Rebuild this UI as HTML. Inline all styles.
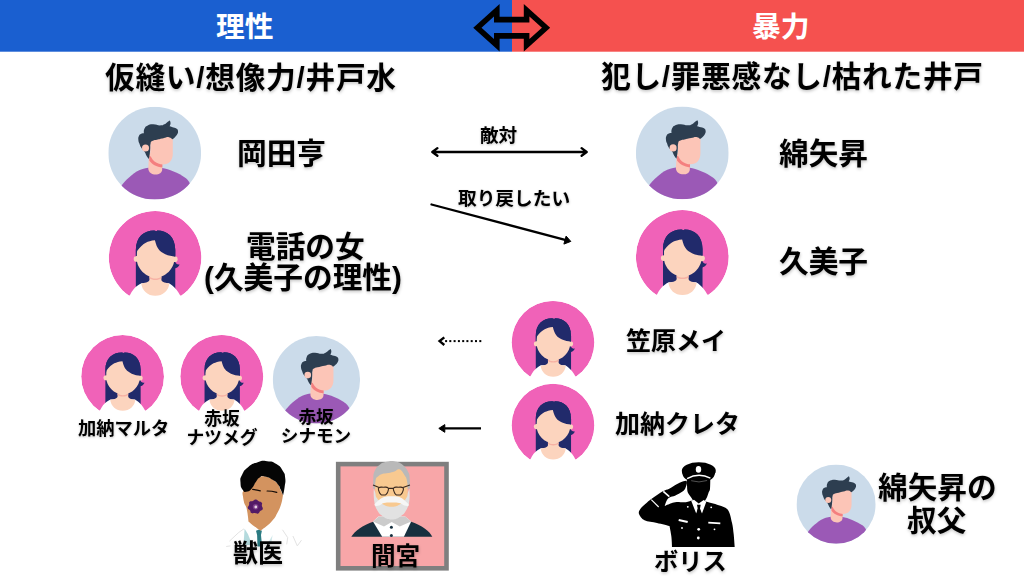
<!DOCTYPE html>
<html><head><meta charset="utf-8"><title>diagram</title><style>html,body{margin:0;padding:0;background:#fff;font-family:"Liberation Sans",sans-serif}svg{display:block}svg text{font-family:"Liberation Sans","Noto Sans CJK JP",sans-serif;font-weight:bold}</style></head><body>
<svg width="1024" height="576" viewBox="0 0 1024 576">
<defs><symbol id="male" viewBox="0 0 100 100"><clipPath id="mc"><circle cx="50" cy="50" r="50"/></clipPath><circle cx="50" cy="50" r="50" fill="#cbdbea"/><g clip-path="url(#mc)"><path fill="#9b59b6" d="M11 90C17 80 23 75.3 30.6 69.9C35 67.5 39 66.3 43.1 65.8L58.1 66.1C65.3 67.3 75 71 83.7 77C86 79 88 82 90 87L90 101L11 101Z"/><path fill="#fcc5b7" d="M44 50L43.1 66.3C43.1 75.2 58.1 75.2 58.1 67.5L58.1 50Z"/><path fill="#f47f7f" d="M44.2 53L44.2 58C46.5 62 52 65 58.3 65.6L58.3 58Z"/><path fill="#fcc5b7" d="M45.2 30L69.5 30L69.5 50.7C69.5 58 65 62.3 59 62.3C52 62.3 45.2 57 45.2 50Z"/><path fill="#2d3e50" d="M32.4 35.8C32.2 33.6 32.2 33.4 33 31.6C33.8 29.8 34 30 35.4 29.2C36.8 28.4 38.4 28.5 38.4 28.5C38.4 28.5 37.8 26 38.9 23.8C40 21.6 39.9 21.5 42.5 20.2C45.1 18.9 45 19 48.5 19C52 19 52.5 20.2 55.7 20.2C58.9 20.2 58.3 20.1 60.5 19C62.7 17.9 62.6 17.3 64.1 16.2C65.6 15.1 66.2 14.8 66.2 14.8C66.2 14.8 67.2 16.1 67.1 17.8C67 19.5 65.9 21.2 65.9 21.2C65.9 21.2 68 21.7 70.1 22.4C72.2 23.1 72.4 22.8 73.7 23.8C75 24.8 74.9 24.6 75.1 26.2C75.3 27.8 75.3 27.9 74.3 29.8C73.3 31.7 72.7 32 71.3 33.4C69.9 34.8 68.9 35 68.9 35C68.9 35 67.9 33.1 65.3 32.8C62.7 32.5 62.5 33.3 59.3 34C56.1 34.7 56.5 34.6 53.3 35.4C50.1 36.2 49.4 35.8 47.3 37C45.2 38.2 46.1 37.9 45.5 40C44.9 42.1 45.4 41.8 45.2 44.7C45 47.6 45.1 47.6 44.7 50.7C44.3 53.8 43.7 56.3 43.7 56.3C43.7 56.3 42.6 55.2 41.3 53.1C40 51 40.5 50.7 38.9 48.3C37.3 45.9 36.8 46.3 35.4 44.1C34 41.9 34.4 42.2 33.6 40C32.8 37.8 32.6 38 32.4 35.8Z"/><circle cx="40.1" cy="44.6" r="3.8" fill="#fcc5b7"/></g></symbol><symbol id="female" viewBox="0 0 100 100" overflow="visible"><clipPath id="fc"><circle cx="50" cy="50" r="50"/></clipPath><g clip-path="url(#fc)"><circle cx="50" cy="50" r="50" fill="#f062b8"/><path fill="#212a6b" d="M29.2 84L29.2 42C29.2 28 38 21 49 21L51.5 21.8L52.5 21C63 21 71.8 28 71.8 42L71.8 84Z"/><path fill="#212a6b" d="M71 54C72 57 74 58 76.5 57.6C75.5 60 73.5 61.5 71 62Z"/></g><path fill="#fff" d="M8 102L22.9 90.7C25 86 28 82.5 30.8 80.6C32.5 79.3 34 78.3 35.4 77.8L64.7 77.8C66 78.3 67.5 79.3 68.9 80.6C72 83 75 87 76.8 90.7L92 102Z"/><path fill="#fcd4be" d="M43.9 66L43.9 74C43.9 76.5 41 77.5 35 78.2C36 86 42 91.5 50.2 91.5C58.5 91.5 64.5 86 65.5 78.2C59.5 77.5 56.8 76.5 56.8 74L56.8 66Z"/><path fill="#f6b1a4" d="M43.9 70.5C47 73.5 53.5 73.5 56.8 70.5L56.8 72.5C53.5 75 47 75 43.9 72.5Z"/><circle cx="30" cy="51.7" r="3.1" fill="#fcd4be"/><circle cx="71.2" cy="51.9" r="3.1" fill="#fcd4be"/><path fill="#fcd4be" d="M30.3 38L30.3 52C30.3 62 40 71.8 50.4 71.8C61 71.8 70.7 62 70.7 52L70.7 38C70.7 33 60 28 50 28C40 28 30.3 33 30.3 38Z"/><path fill="#212a6b" d="M29.2 50L29.2 42C29.2 28 38 21 49 21L51.5 21.8L52.5 21C63 21 71.8 28 71.8 42L71.8 49.2C68 49 64.5 48.2 61 46.7C57.5 45 55.5 43.5 54.4 42.1C52.2 39.5 51 36.5 49.8 31.6C45.5 32 42.6 32.9 40 34.2C37 35.8 33.5 39 30.8 42.7C29.8 45 29.4 47.5 29.2 50Z"/></symbol>
<filter id="ts" x="-10%" y="-20%" width="120%" height="150%"><feDropShadow dx="0.3" dy="1.5" stdDeviation="1.5" flood-color="#000" flood-opacity="0.24"/></filter>
<filter id="ts2" x="-10%" y="-20%" width="120%" height="150%"><feDropShadow dx="0.2" dy="1" stdDeviation="1" flood-color="#000" flood-opacity="0.25"/></filter>
</defs>
<rect width="1024" height="576" fill="#fff"/>
<rect x="0" y="0" width="512" height="51.7" fill="#1a5fd0"/><rect x="512" y="0" width="512" height="51.7" fill="#f5514f"/>
<path d="M477.4 27.75L496.8 10.2L496.8 19.6L526.6 19.6L526.6 10.2L546 27.75L526.6 45.3L526.6 35.9L496.8 35.9L496.8 45.3Z" fill="none" stroke="#000" stroke-width="5.6" stroke-miterlimit="10"/>
<text x="216" y="37" font-size="28.8" fill="#fff">理性</text>
<text x="752" y="37" font-size="28.8" fill="#fff">暴力</text>
<use href="#male" x="108.3" y="106.7" width="92.8" height="92.8"/>
<use href="#female" x="108.8" y="211.1" width="92.6" height="92.6"/>
<use href="#male" x="635.9" y="106.5" width="92.8" height="92.8"/>
<use href="#female" x="635.9" y="210.1" width="92.8" height="92.8"/>
<use href="#female" x="511.6" y="300.9" width="82.8" height="82.8"/>
<use href="#female" x="511.6" y="383.8" width="82.8" height="82.8"/>
<use href="#female" x="81.2" y="335" width="82.8" height="82.8"/>
<use href="#female" x="180.3" y="334.9" width="83" height="83"/>
<use href="#male" x="272.7" y="336.1" width="87.4" height="87.4"/>
<use href="#male" x="796.5" y="464.6" width="79.2" height="79.2"/>
<g fill="none" stroke="#000" stroke-width="2.3" stroke-linecap="round" stroke-linejoin="round">
<path d="M432.5 152L586.5 152M437.4 148.1L432.3 152L437.4 155.7M581.6 148.1L586.7 152L581.6 155.7"/>
<path d="M431.5 204.5L566 240.1"/>
<path d="M445 428.4L481 428.4" stroke-linecap="butt"/>
</g>
<path d="M570.8 241.4L566.1 236.1L563.9 244.1Z" fill="#000" stroke="#000" stroke-width="1" stroke-linejoin="round"/>
<path d="M438.8 428.4L444.8 424.6L444.8 432.3Z" fill="#000" stroke="#000" stroke-width="1" stroke-linejoin="round"/>
<g fill="#000"><rect x="445.1" y="340.1" width="2" height="2"/><rect x="449.3" y="340.1" width="2" height="2"/><rect x="453.6" y="340.1" width="2" height="2"/><rect x="457.9" y="340.1" width="2" height="2"/><rect x="462.2" y="340.1" width="2" height="2"/><rect x="466.4" y="340.1" width="2" height="2"/><rect x="470.7" y="340.1" width="2" height="2"/><rect x="475" y="340.1" width="2" height="2"/><rect x="479.3" y="340.1" width="2" height="2"/></g>
<path d="M444.3 337.4L439.6 341.1L444.3 345" fill="none" stroke="#000" stroke-width="2.4" stroke-linejoin="miter"/>
<g>
<g fill="none" stroke="#e3e3e3" stroke-width="1"><polyline points="229.4,541.2 238.8,532.4 244,528.8"/><polyline points="282.5,529.8 287.7,537.6 286.7,544.4"/><polyline points="292.9,536 297.3,545.9 301.5,540.2"/><polyline points="230.4,545.9 226.2,546.5"/></g>
<polygon fill="#b4dadd" points="244.6,528.8 247.9,534 252.3,544.9 243.5,544.9"/>
<polygon fill="#cfe8ea" points="272.6,535 269,541.2 264.8,544.4 271.6,541.2"/>
<polygon fill="#2b7b82" points="256,530.8 259.1,529.6 261.9,530.8 261,535 262.1,546.5 257.5,546.5 257.1,535"/>
<path fill="#d3935f" d="M243.2 491.2C244.6 489.7 249.4 489.6 251.4 488C253.5 486.5 254 483.6 255.3 481.8C256.6 480 257.7 478 259.2 477.1C260.8 476.2 262.5 475.9 264.7 476.3C266.9 476.7 270.3 478.1 272.5 479.4C274.7 480.7 276.7 482.4 278 484.1C279.3 485.8 279.5 487.8 280.3 489.6C281.2 491.4 283 495.1 283 495.1C283 495.1 282.6 498.4 282.1 500.5C281.6 502.6 280.9 505.3 280 507.6C279.2 509.8 277.8 512.1 276.9 513.8C276 515.5 276 516 274.6 517.9C273.1 519.8 270.3 522.9 268 525.1C265.7 527.2 260.5 530.7 260.5 530.7C260.5 530.7 255.9 527.5 253.9 526C251.9 524.5 248.5 521.5 248.5 521.5C248.5 521.5 248.2 517.7 247.8 515.4C247.5 513.1 247 509.6 246.4 507.6C245.8 505.5 244.8 504.7 244.2 502.9C243.7 501.1 243.2 498.6 243 496.6C242.8 494.7 241.8 492.6 243.2 491.2Z"/>
<path fill="#050505" d="M242.8 490.1C240.9 487.3 240.7 487.2 240.5 482.6C240.3 478 239.7 479.4 242.1 474.8C244.4 470.1 243.6 470.7 248.3 466.9C253 463.2 252.1 464 257.7 462.2C263.3 460.5 261.4 460.6 267.1 461.2C272.7 461.7 271.8 461.2 276.4 464.1C281.1 467 280.1 466.7 282.7 470.8C285.3 475 284.6 473 285.2 477.9C285.8 482.8 285.2 482 284.6 487.2C283.9 492.5 283 495.4 283 495.4C283 495.4 282.2 492.9 280.7 489.6C279.2 486.3 280.4 487.4 278 484.4C275.6 481.5 276.5 482.1 272.5 479.8C268.5 477.4 268.6 477.3 264.7 476.6C260.9 475.9 262.4 475.8 259.7 477.4C257 479 258.2 478.8 255.8 482.1C253.5 485.4 254.5 485.5 251.9 488.3C249.3 491.2 249.8 491.1 247.1 491.6C244.3 492.1 244.8 492.8 242.8 490.1Z"/>
<path fill="none" stroke="#120a06" stroke-width="1.2" stroke-linecap="round" d="M252.7 489.4Q256.4 489.8 260.3 490.8M267.1 491Q271.8 491 276.8 492.4"/>
<path fill="#521a66" d="M262.7 508.9C262.1 510.7 261.7 509.5 260.2 511.1C258.7 512.6 259.9 512.9 258.1 513.6C256.4 514.2 257.1 513.2 254.8 513.1C252.6 512.9 253.2 514 251.5 513.1C249.8 512.2 251.1 512.1 249.9 510.3C248.6 508.6 248 509.7 247.8 507.9C247.5 506.1 248.4 506.9 249 504.9C249.7 502.9 248.4 503.1 249.7 501.8C251 500.5 250.9 501.7 252.9 500.9C255 500.1 254 499.4 255.9 499.5C257.8 499.6 256.7 500.3 258.7 501.3C260.6 502.4 260.6 501.2 261.7 502.7C262.8 504.2 261.6 503.8 261.9 505.8C262.2 507.9 263.2 507.2 262.7 508.9Z"/>
<circle cx="255.6" cy="506.8" r="2.8" fill="#7b3d8a"/>
<circle cx="255.8" cy="507" r="1.4" fill="#e6d3e3"/>
</g>
<rect x="338.2" y="464.1" width="108.3" height="104.2" fill="#f8a6a8" stroke="#7f7f7f" stroke-width="4.6"/>
<path fill="#17303f" d="M351.3 536.7C354.7 530.9 362.3 525.5 373.8 521.4L410.5 521.4C421.9 525.5 429.6 530.9 432.3 536.7Z"/>
<polygon fill="#fff" points="373,521.4 382.2,536.7 403.9,536.7 411.2,521.4 405.1,516.4 378.4,516.4"/>
<polygon fill="#cbcbcb" points="378.8,516.4 373,521.4 384,526.6 391.7,522 399.8,526.6 411.2,521.4 405.1,516.4"/>
<circle cx="391.4" cy="527.2" r="1.5" fill="#17303f"/>
<circle cx="391.4" cy="535.4" r="1.5" fill="#17303f"/>
<path fill="#b9b9b9" d="M373.3 488.8C373.3 488.8 373.1 483 373.3 478.9C373.6 474.8 373.1 474.6 374.6 471.3C376 468 376.6 467.1 379.4 464.9C382.3 462.6 383.1 462.4 386.8 461.7C390.5 460.9 391.4 460.8 395.2 461.5C398.9 462.2 399.8 462.4 402.8 464.9C405.9 467.3 406.6 468.8 408.2 472C409.8 475.3 409.3 475 409.7 478.9C410.1 482.8 409.7 488.8 409.7 488.8C409.7 488.8 373.3 488.8 373.3 488.8Z"/>
<path fill="#f8c990" d="M375.6 480.4C376.2 477.1 376.4 478.1 377.9 476.6C379.5 475.1 379.8 474.8 382.2 474C384.6 473.2 385.5 473.7 388.3 473.1C391.2 472.5 392.2 472.4 394.4 471.6C396.6 470.7 396.2 469.7 397.8 469.4C399.4 469.2 399.8 469.2 401.3 470.5C402.8 471.8 403 472.8 404.4 475.1C405.7 477.4 406.2 476.7 406.9 480.4C407.7 484.2 407.6 486.2 407.6 491.1C407.5 496.1 408.3 496.8 406.6 501.8C405 506.8 404 509.3 400.5 512.5C397 515.7 395.8 515.6 391.7 515.6C387.6 515.6 386.4 515.7 383 512.5C379.5 509.3 378.6 506.8 376.8 501.8C375.1 496.8 375.6 496.1 375.3 491.1C375 486.2 375 483.8 375.6 480.4Z"/>
<path fill="#e2e2e2" d="M373.8 488.8C373.8 488.8 374.6 490.5 375.3 492.7C376 494.8 375.2 495.9 376.8 498C378.5 500.2 378.7 500.8 382.2 501.8C385.7 502.9 387.2 502.6 391.7 502.6C396.1 502.6 397.9 502.9 401.3 501.8C404.7 500.8 404.8 500.2 406.3 498C407.9 495.9 407.2 494.8 407.9 492.7C408.6 490.5 409.4 488.8 409.4 488.8C409.4 488.8 410 495.5 409.4 500.3C408.8 505.1 408.7 505.7 406.6 509.5C404.6 513.2 404 514 400.5 516.4C397 518.7 395.8 519.4 391.7 519.4C387.6 519.4 386.4 518.7 383 516.4C379.5 514 378.9 513.2 376.8 509.5C374.8 505.7 374.8 505.1 374.1 500.3C373.4 495.5 373.8 488.8 373.8 488.8Z"/>
<path fill="#f8c990" d="M381.9 502.6C383.3 501.6 387.2 501.5 391.7 501.5C396.1 501.5 399.5 501.6 400.8 502.6C402.2 503.6 399.6 504.7 397.5 505.7C395.3 506.6 394.5 506.7 391.7 506.7C388.9 506.7 387.8 506.6 385.6 505.7C383.3 504.7 380.5 503.6 381.9 502.6Z"/>
<path fill="#f6f6f6" d="M374.6 505.2C374.1 504.3 375.2 503.4 377.3 501.5C379.4 499.7 380.1 498.5 383.4 497.3C386.8 496 387.8 496.3 391.7 496.3C395.5 496.3 396.6 496 399.9 497.3C403.2 498.5 403.7 499.7 405.7 501.5C407.8 503.4 409.1 504.3 408.8 505.2C408.5 506.1 406.7 506 404.5 505.5C402.3 505 402.3 503.8 399.3 503.1C396.3 502.3 395.2 502.4 391.7 502.4C388.1 502.4 387 502.3 384 503.1C381.1 503.8 381.4 505 379.1 505.5C376.9 506 375 506.1 374.6 505.2Z"/>
<g fill="none" stroke="#3b2a20" stroke-width="1.1" stroke-linejoin="round">
<path d="M378.8 487.8C380 486.6 381 487.2 383.4 487.2C385.9 487.2 386.8 486.6 388 487.8C389.2 488.9 388.3 489.7 387.9 491.4C387.4 493.2 387.4 493.4 386.2 494.3C385 495.3 384.9 495 383.4 495C382 495 381.9 495.3 380.7 494.3C379.5 493.4 379.5 493.2 379 491.4C378.5 489.7 377.7 488.9 378.8 487.8Z"/>
<path d="M393.8 487.8C395 486.6 395.9 487.2 398.4 487.2C400.8 487.2 401.8 486.6 403 487.8C404.2 488.9 403.3 489.7 402.8 491.4C402.3 493.2 402.3 493.4 401.1 494.3C400 495.3 399.9 495 398.4 495C396.9 495 396.8 495.3 395.6 494.3C394.5 493.4 394.5 493.2 394 491.4C393.5 489.7 392.6 488.9 393.8 487.8Z"/>
<path d="M373 485L379.1 487.6M388 488.4L393.8 488.4M403 487.6L410 485"/></g>
<path fill="#000" d="M672 547C672 547 671.8 539.5 671.3 536C670.9 532.5 669.5 526 669.5 526C669.5 526 661.2 523.9 657 523C652.8 522.1 647.5 521.8 644.5 520.3C641.5 518.8 639.7 515.9 639 514C638.3 512.1 639.3 510.7 640.3 509C641.4 507.3 643.4 505.8 645.3 504C647.3 502.2 649.1 500.6 652 498.5C654.9 496.4 660 493 662.8 491.3C665.7 489.7 666.9 489.8 669.2 488.7C671.5 487.5 674.5 485.5 676.7 484.3C678.8 483.2 680.4 482.4 682 481.8C683.6 481.2 686.5 480.8 686.5 480.8C686.5 480.8 687.1 482.3 686.8 483.7C686.6 485 685 489 685 489C685 489 684.2 490.4 682.5 491.5C680.8 492.6 677.1 494.7 675 495.7C672.9 496.6 671.3 496.4 670 497.2C668.7 497.9 667.9 498.5 667 500C666.1 501.5 664.7 506 664.7 506C664.7 506 669.3 504 671.3 503.3C673.3 502.7 674.4 502.2 676.7 502C678.9 501.8 682.6 502.6 685 502.3C687.4 502.1 690.8 500.7 690.8 500.7C690.8 500.7 693 500.7 693 500.7C693 500.7 692.3 499.1 691.7 498.2C691 497.2 689.9 495.9 689.2 494.8C688.5 493.7 687.9 493.2 687.5 491.5C687.1 489.8 687.1 486.9 687 484.8C686.9 482.8 687 479.3 687 479.3C687 479.3 694.8 476.9 698.7 476.8C702.6 476.8 710.3 479 710.3 479C710.3 479 710.3 486.8 710 489C709.7 491.2 709.2 490.9 708.7 492.3C708.2 493.7 707.6 495.9 707 497.3C706.4 498.7 705 500.7 705 500.7C705 500.7 706.3 501.7 706.3 501.7C706.3 501.7 715.1 503.8 718.7 505.2C722.2 506.5 725.6 506.8 727.8 509.7C730.1 512.6 731 518.6 732 522.7C733 526.8 733.2 530.3 733.7 534.3C734.1 538.4 734.7 547 734.7 547C734.7 547 672 547 672 547Z"/>
<ellipse cx="698.8" cy="470.7" rx="17" ry="8.4" fill="#000"/>
<path fill="#000" d="M682 471.8C682 471.8 682.3 476.8 685.7 479C689 481.2 693.5 482.7 698.7 482.7C703.9 482.7 708.3 481.2 711.7 479C715 476.8 715.3 471.8 715.3 471.8C715.3 471.8 682 471.8 682 471.8Z"/>
<path fill="none" stroke="#fff" stroke-width="1.4" d="M687.1 478.6Q698.8 472.1 710.4 478.2"/>
<path fill="none" stroke="#fff" stroke-width="0.4" opacity="0.8" d="M691.2 480.7Q698.8 483.3 707.1 480.5"/>
<ellipse cx="698.5" cy="469.4" rx="2.7" ry="3.3" fill="#fff"/>
<polygon fill="#fff" points="691.3,501 694,499.7 698.7,503.5 703.7,500 706.3,501.7 702,513.5 698.7,506 696.2,513.5"/>
<polygon fill="#000" points="697,504.7 700.7,504.7 700,508.5 701.2,514.3 698.7,516.8 696.7,514.3 697.7,508.5"/>
<path stroke="#fff" stroke-width="1.1" fill="none" d="M651.3 499.7L658.7 507"/>
<path stroke="#fff" stroke-width="1.6" fill="none" d="M663.3 491.3L669.3 496.7"/>
<path stroke="#fff" stroke-width="2.2" fill="none" d="M678.7 520L687.7 522"/>
<path stroke="#fff" stroke-width="1.8" fill="none" d="M708.3 522.7L720.3 523.3"/>
<circle cx="698.7" cy="529.3" r="1.4" fill="#fff"/>
<circle cx="698.3" cy="538" r="1.4" fill="#fff"/>
<circle cx="682" cy="528" r="0.9" fill="#fff"/>
<circle cx="714.5" cy="529.3" r="0.9" fill="#fff"/>
<circle cx="687.8" cy="506.8" r="0.9" fill="#fff"/>
<circle cx="711.2" cy="507.3" r="0.9" fill="#fff"/>
<g filter="url(#ts)" fill="#000">
<text x="105" y="88" font-size="29.7" textLength="291" lengthAdjust="spacing">仮縫い/想像力/井戸水</text>
<text x="601" y="87" font-size="29.7" textLength="382" lengthAdjust="spacing">犯し/罪悪感なし/枯れた井戸</text>
<text x="237" y="164" font-size="29.7">岡田亨</text>
<text x="779" y="164" font-size="29.7">綿矢昇</text>
<text x="779" y="272" font-size="29.7">久美子</text>
<text x="246" y="257" font-size="29.7">電話の女</text>
<text x="204" y="287.5" font-size="29.7">(久美子の理性)</text>
<text x="626" y="350" font-size="25">笠原メイ</text>
<text x="615" y="433" font-size="25">加納クレタ</text>
</g>
<g filter="url(#ts2)" fill="#000">
<text x="480" y="141.7" font-size="18.6">敵対</text>
<text x="458" y="205" font-size="18.7">取り戻したい</text>
<text x="78" y="434.5" font-size="18.3">加納マルタ</text>
<text x="222" y="425" font-size="17.8" text-anchor="middle">赤坂</text>
<text x="222" y="444" font-size="17.8" text-anchor="middle">ナツメグ</text>
<text x="316" y="422.7" font-size="17.6" text-anchor="middle">赤坂</text>
<text x="316" y="441.5" font-size="17.6" text-anchor="middle">シナモン</text>
</g>
<g filter="url(#ts)" fill="#000">
<text x="233" y="561.5" font-size="25">獣医</text>
<text x="371" y="565" font-size="24.6">間宮</text>
<text x="654" y="569.5" font-size="24.3">ボリス</text>
<text x="878" y="498" font-size="29.7">綿矢昇の</text>
<text x="907" y="530.5" font-size="29.7">叔父</text>
</g>
</svg>
</body></html>
